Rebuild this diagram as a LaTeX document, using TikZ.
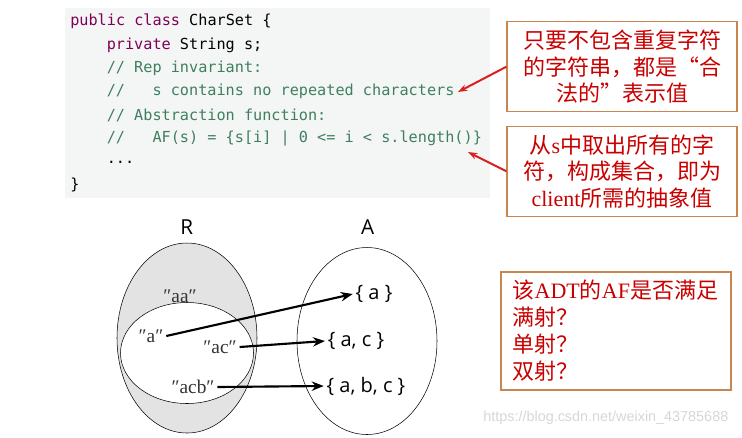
\documentclass[tikz,border=0pt]{standalone}
\usepackage{fontspec}
\setmainfont{Liberation Serif}
\setsansfont{Open Sans}
\setmonofont{DejaVu Sans Mono}
\newfontfamily\cjk{Noto Sans CJK SC}
\usetikzlibrary{arrows.meta, positioning}

\definecolor{codebg}{HTML}{F4F6F6}
\definecolor{kwpurple}{HTML}{7F0055}
\definecolor{cmtgreen}{HTML}{3F7F5F}
\definecolor{noteborder}{HTML}{C8864E}
\definecolor{notered}{HTML}{C80000}
\definecolor{arrowred}{HTML}{D9201E}
\definecolor{repgrey}{HTML}{E3E3E3}
\definecolor{wmgrey}{HTML}{D6D6D6}

\newcommand{\kw}[1]{\textcolor{kwpurple}{#1}}
\newcommand{\cmt}[1]{\textcolor{cmtgreen}{#1}}
\newcommand{\lat}[1]{{\rmfamily #1}}

\begin{document}
\begin{tikzpicture}[x=0.75pt, y=-0.75pt]
  \tikzstyle{codeline}=[anchor=west, inner sep=0pt, font=\ttfamily\fontsize{11.4}{13}\selectfont]
  \tikzstyle{notebox}=[draw=noteborder, line width=0.9pt, text=notered, minimum width=172.5pt, minimum height=67.5pt, align=center, font=\cjk\fontsize{16.5}{20}\selectfont]
  \tikzstyle{noteptr}=[draw=arrowred, line width=1.5pt, -{Stealth[length=7pt, width=5pt]}]
  \tikzstyle{repstr}=[inner sep=2pt, text=black!80, font=\rmfamily\fontsize{14.5}{16}\selectfont]
  \tikzstyle{absset}=[inner sep=2pt, font=\sffamily\fontsize{15}{17}\selectfont]
  \tikzstyle{maparrow}=[line width=1.6pt, -{Stealth[length=9pt, width=7pt]}]

  \useasboundingbox (0,0) rectangle (742,437);

  % code listing
  \fill[codebg] (65,8) rectangle (490,198);
  \node[codeline] (c1) at (70,21.7) {\kw{public class} CharSet \{};
  \node[codeline] (c2) at (106.5,45) {\kw{private} String s;};
  \node[codeline] (c3) at (106.5,68.3) {\cmt{// Rep invariant:}};
  \node[codeline] (c4) at (106.5,91.7) {\cmt{//\ \ \ s contains no repeated characters}};
  \node[codeline] (c5) at (106.5,115) {\cmt{// Abstraction function:}};
  \node[codeline] (c6) at (106.5,138.3) {\cmt{//\ \ \ AF(s) = \{s[i] | 0 <= i < s.length()\}}};
  \node[codeline] (c7) at (106.5,162) {...};
  \node[codeline] (c8) at (70,185) {\}};

  % notes
  \node[notebox] (rinvnote) at (622,66.7) {只要不包含重复字符\\的字符串，都是“合\\法的”表示值};
  \node[notebox] (afnote) at (622,171.3) {从\lat{s}中取出所有的字\\符，构成集合，即为\\\lat{client}所需的抽象值};
  \node[notebox, minimum height=88.5pt, align=left, text width=155pt, inner xsep=8pt,
        font=\cjk\fontsize{16.5}{20.25}\selectfont] (question) at (616,331)
       {该\lat{ADT}的\lat{AF}是否满足\\满射？\\单射？\\双射？};

  \coordinate (rinvtip) at (458,92);
  \coordinate (aftip) at (468,152);
  \draw[noteptr] (rinvnote.west) -- (rinvtip);
  \draw[noteptr] (afnote.west) -- (aftip);

  % R and A spaces
  \node[font=\sffamily\fontsize{15.5}{17}\selectfont] (rlabel) at (186.7,226.7) {R};
  \node[font=\sffamily\fontsize{15.5}{17}\selectfont] (alabel) at (367.7,226.7) {A};
  \draw[fill=repgrey] (187,338) ellipse [x radius=70, y radius=95];
  \draw[fill=white] (187,353) ellipse [x radius=66.5, y radius=50.5];
  \draw (367,341) ellipse [x radius=70, y radius=93.5];

  \node[repstr] (saa) at (180,296) {″aa″};
  \node[repstr] (sa) at (151,336) {″a″};
  \node[repstr] (sac) at (220,347) {″ac″};
  \node[repstr] (sacb) at (193,387) {″acb″};

  \node[absset] (seta) at (374,294) {\{ a \}};
  \node[absset] (setac) at (356,341) {\{ a, c \}};
  \node[absset] (setabc) at (366,386) {\{ a, b, c \}};

  \draw[maparrow] (sa.east) -- (seta.west);
  \draw[maparrow] (sac.east) -- (setac.west);
  \draw[maparrow] (sacb.east) -- (setabc.west);

  % watermark
  \node[text=wmgrey, font=\fontspec{Liberation Sans}\fontsize{10.8}{12}\selectfont, anchor=east] (wmark) at (733,418) {https://blog.csdn.net/weixin\_43785688};
\end{tikzpicture}
\end{document}
